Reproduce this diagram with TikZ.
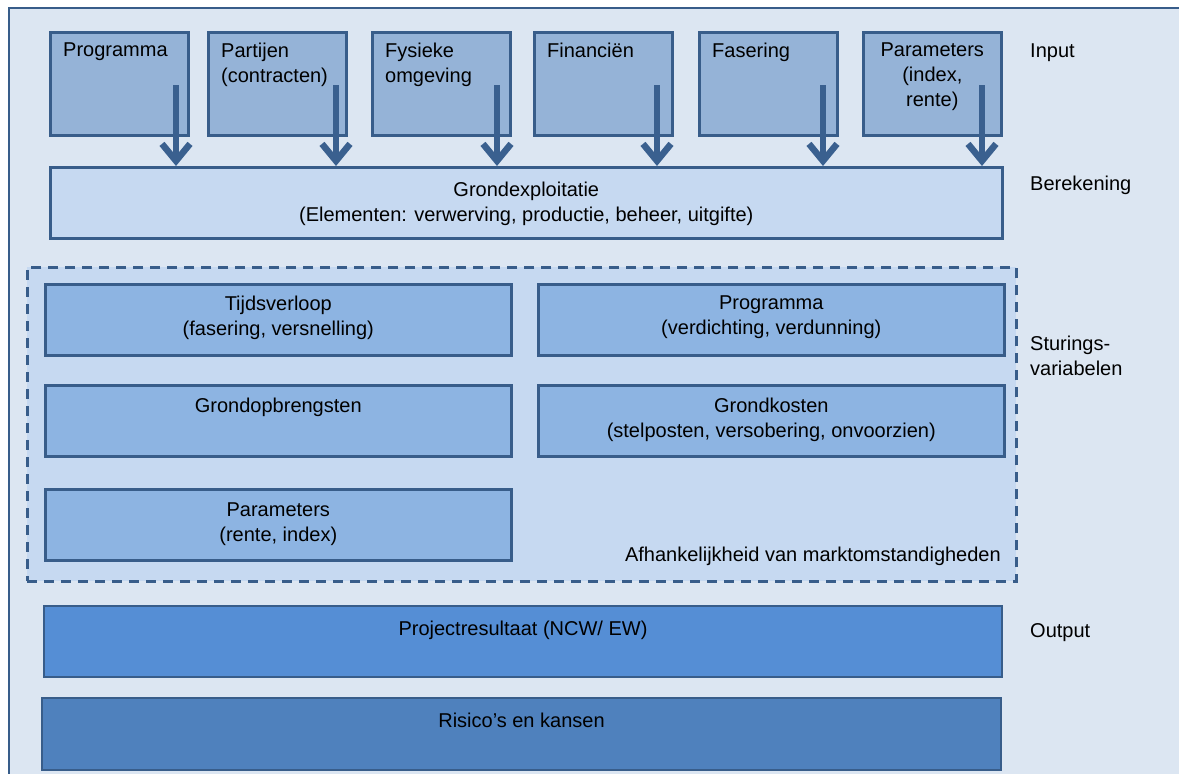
\documentclass[tikz,border=0pt]{standalone}
\usepackage{fontspec}
\setmainfont{Liberation Sans}
\usetikzlibrary{arrows.meta}
\definecolor{bgc}{RGB}{220,230,242}
\definecolor{bordc}{RGB}{56,93,138}
\definecolor{inc}{RGB}{149,179,215}
\definecolor{lightc}{RGB}{198,217,241}
\definecolor{midc}{RGB}{141,180,226}
\definecolor{outc}{RGB}{85,142,213}
\definecolor{riskc}{RGB}{79,129,189}
\definecolor{arrc}{RGB}{58,96,143}
\begin{document}
\begin{tikzpicture}[x=1pt,y=-1pt,
  txt/.style={inner sep=0pt, font=\fontsize{20}{25}\selectfont, text=black},
  box/.style={draw=bordc, line width=2.6pt, anchor=north west, inner sep=0pt},
  inbox/.style={box, fill=inc, minimum width=138pt, minimum height=103pt},
  midbox/.style={box, fill=midc, minimum width=466pt, minimum height=71pt},
  bigarrow/.style={draw=arrc, line width=6.5pt, -{Straight Barb[length=17pt,width=28pt]}},
  sidelbl/.style={txt, anchor=base west}
]
\useasboundingbox (0,0) rectangle (1179,774);
\clip (0,0) rectangle (1179,774);
\fill[white] (0,0) rectangle (1179,774);
\draw[draw=bordc, fill=bgc, line width=2pt] (9,8) rectangle (1200,800);

% input boxes
\node[inbox] (p1) at (49,31) {};
\node[inbox] (p2) at (207,31) {};
\node[inbox] (p3) at (371,31) {};
\node[inbox] (p4) at (533,31) {};
\node[inbox] (p5) at (698,31) {};
\node[inbox] (p6) at (862,31) {};
\node[txt, anchor=north west, align=left] (t1) at ([xshift=14pt,yshift=-12pt]p1.north west) {Programma};
\node[txt, anchor=north west, align=left] (t2) at ([xshift=14pt,yshift=-12pt]p2.north west) {Partijen\\(contracten)};
\node[txt, anchor=north west, align=left] (t3) at ([xshift=14pt,yshift=-12pt]p3.north west) {Fysieke\\omgeving};
\node[txt, anchor=north west, align=left] (t4) at ([xshift=14pt,yshift=-12pt]p4.north west) {Financiën};
\node[txt, anchor=north west, align=left] (t5) at ([xshift=14pt,yshift=-12pt]p5.north west) {Fasering};
\node[txt, anchor=north, align=center] (t6) at ([yshift=-12pt]p6.north) {Parameters\\(index,\\rente)};

% calculation box
\node[box, fill=lightc, minimum width=952pt, minimum height=71pt] (g) at (49,166) {};
\node[txt, anchor=north, align=center] (gt) at ([yshift=-16pt]g.north) {Grondexploitatie\\(Elementen: verwerving, productie, beheer, uitgifte)};

% arrows
\coordinate (a1) at (176,85);
\coordinate (a2) at (336,85);
\coordinate (a3) at (497,85);
\coordinate (a4) at (657,85);
\coordinate (a5) at (823,85);
\coordinate (a6) at (982,85);
\foreach \a in {a1,a2,a3,a4,a5,a6}{
  \draw[bigarrow] (\a) -- (\a |- g.north);
}

% steering variables
\node[draw=bordc, fill=lightc, line width=2.6pt, dash pattern=on 10pt off 7pt, anchor=north west,
  minimum width=989pt, minimum height=314pt, inner sep=0pt] (sv) at (26,266) {};
\node[midbox] (b1) at (44,283) {};
\node[midbox] (b2) at (537,283) {};
\node[midbox] (b3) at (44,384) {};
\node[midbox] (b4) at (537,384) {};
\node[midbox] (b5) at (44,488) {};
\node[txt, anchor=north, align=center] (bt1) at ([yshift=-13pt]b1.north) {Tijdsverloop\\(fasering, versnelling)};
\node[txt, anchor=north, align=center] (bt2) at ([yshift=-13pt]b2.north) {Programma\\(verdichting, verdunning)};
\node[txt, anchor=north, align=center] (bt3) at ([yshift=-14pt]b3.north) {Grondopbrengsten};
\node[txt, anchor=north, align=center] (bt4) at ([yshift=-14pt]b4.north) {Grondkosten\\(stelposten, versobering, onvoorzien)};
\node[txt, anchor=north, align=center] (bt5) at ([yshift=-15pt]b5.north) {Parameters\\(rente, index)};
\node[txt, anchor=base east] (mk) at (1001,561) {Afhankelijkheid van marktomstandigheden};

% output
\node[box, fill=outc, line width=2pt, minimum width=958pt, minimum height=71pt] (o) at (43,605) {};
\node[txt, anchor=north] (ot) at ([yshift=-16pt]o.north) {Projectresultaat (NCW/ EW)};
\node[box, fill=riskc, line width=2pt, minimum width=959pt, minimum height=72pt] (r) at (41,697) {};
\node[txt, anchor=north] (rt) at ([yshift=-16pt]r.north) {Risico's en kansen};

% side labels
\node[sidelbl] (l1) at (1030,57) {Input};
\node[sidelbl] (l2) at (1030,190) {Berekening};
\node[txt, anchor=north west, align=left] (l3) at (1030,336) {Sturings-\\variabelen};
\node[sidelbl] (l4) at (1030,637) {Output};
\end{tikzpicture}
\end{document}
